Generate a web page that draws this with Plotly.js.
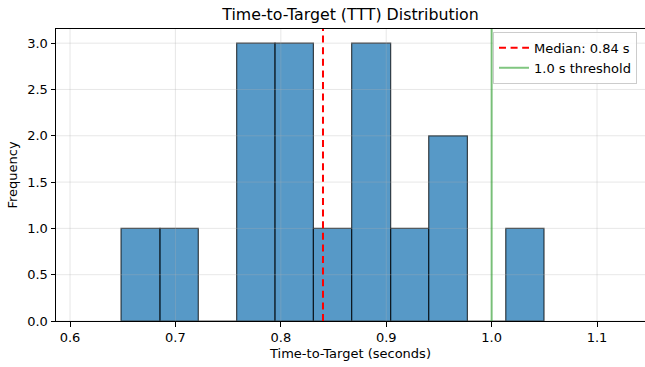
<!DOCTYPE html>
<html>
<head>
<meta charset="utf-8">
<script src="https://cdn.plot.ly/plotly-3.0.1.min.js"></script>
<style>html,body{margin:0;padding:0;background:#fff;}#chart{width:645px;height:367px;}</style>
</head>
<body>
<div id="chart"></div>
<script>
// Histogram bin edges (seconds) and counts
const binEdges = [0.6484, 0.6854, 0.7217, 0.7581, 0.7945, 0.8309, 0.8672, 0.9042, 0.9403, 0.9770, 1.0134, 1.0497];
const binCounts = [1, 1, 0, 3, 3, 1, 3, 1, 2, 0, 1];
const medianValue = 0.84;
const thresholdValue = 1.0;
const medianLabel = "Median: 0.84 s";
const thresholdLabel = "1.0 s threshold";
const xTicks = [0.6, 0.7, 0.8, 0.9, 1.0, 1.1];
const yTicks = [0, 0.5, 1.0, 1.5, 2.0, 2.5, 3.0];

const centers = binCounts.map((_, i) => (binEdges[i] + binEdges[i + 1]) / 2);
const widths = binCounts.map((_, i) => binEdges[i + 1] - binEdges[i]);

const FONT = "DejaVu Sans, sans-serif";

const barTrace = {
  type: "bar",
  x: centers,
  y: binCounts,
  width: widths,
  marker: {
    color: "rgba(31,119,180,0.75)",
    line: { color: "rgba(0,0,0,0.7)", width: 1.2 }
  },
  showlegend: false,
  hoverinfo: "x+y"
};

const gridColor = "rgba(176,176,176,0.3)";
const gridShapes = [];
xTicks.forEach(v => gridShapes.push({
  type: "line", xref: "x", yref: "paper", x0: v, x1: v, y0: 0, y1: 1,
  line: { color: gridColor, width: 1 }, layer: "above"
}));
yTicks.forEach(v => gridShapes.push({
  type: "line", xref: "paper", yref: "y", x0: 0, x1: 1, y0: v, y1: v,
  line: { color: gridColor, width: 1 }, layer: "above"
}));

const layout = {
  width: 645,
  height: 367,
  margin: { l: 56, r: 0, t: 28.5, b: 46 },
  paper_bgcolor: "#fff",
  plot_bgcolor: "#fff",
  font: { family: FONT, size: 13, color: "#000" },
  bargap: 0,
  title: {
    text: "Time-to-Target (TTT) Distribution",
    font: { family: FONT, size: 15.8, color: "#000" },
    xref: "paper", x: 0.5, xanchor: "center",
    y: 0.96, yanchor: "middle"
  },
  xaxis: {
    range: [0.5867, 1.1455],
    tickvals: xTicks,
    ticktext: xTicks.map(v => v.toFixed(1)),
    ticks: "outside", ticklen: 4.5, tickwidth: 1, tickcolor: "#000",
    showline: true, linecolor: "#000", linewidth: 1, mirror: true,
    showgrid: false, zeroline: false,
    tickfont: { family: FONT, size: 13, color: "#000" },
    title: { text: "Time-to-Target (seconds)", font: { family: FONT, size: 13, color: "#000" }, standoff: 4 }
  },
  yaxis: {
    range: [0, 3.153],
    tickvals: yTicks,
    ticktext: yTicks.map(v => v.toFixed(1)),
    ticks: "outside", ticklen: 4.5, tickwidth: 1, tickcolor: "#000",
    showline: true, linecolor: "#000", linewidth: 1,
    showgrid: false, zeroline: false,
    tickfont: { family: FONT, size: 13, color: "#000" },
    title: { text: "Frequency", font: { family: FONT, size: 13, color: "#000" }, standoff: 6 }
  },
  legend: {
    x: 0.9864, xanchor: "right",
    y: 0.99, yanchor: "top",
    bgcolor: "rgba(255,255,255,0.8)",
    bordercolor: "#cccccc", borderwidth: 1,
    font: { family: FONT, size: 13, color: "#000" },
    tracegroupgap: 0
  },
  shapes: gridShapes.concat([
    {
      type: "line", xref: "x", yref: "paper",
      x0: medianValue, x1: medianValue, y0: 0, y1: 1,
      line: { color: "red", width: 2, dash: "7px,4.6px" },
      layer: "above", showlegend: true, name: medianLabel
    },
    {
      type: "line", xref: "x", yref: "paper",
      x0: thresholdValue, x1: thresholdValue, y0: 0, y1: 1,
      line: { color: "rgba(44,160,44,0.6)", width: 2 },
      layer: "above", showlegend: true, name: thresholdLabel
    }
  ])
};

Plotly.newPlot("chart", [barTrace], layout, { displayModeBar: false, staticPlot: true });
</script>
</body>
</html>
